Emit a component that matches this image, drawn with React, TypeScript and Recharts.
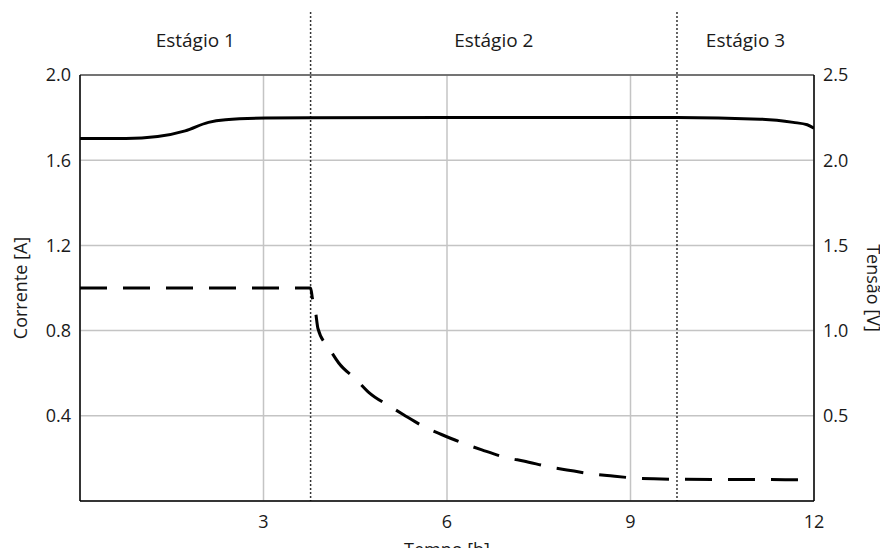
import React from 'react';
import {
  LineChart,
  Line,
  XAxis,
  YAxis,
  CartesianGrid,
  ReferenceLine,
  ReferenceArea,
} from 'recharts';

const FONT = '"Open Sans", "Noto Sans", sans-serif';
const TEXT = '#1a1a1a';

const timeTicks = [3, 6, 9, 12];
const currentTicks = [0.4, 0.8, 1.2, 1.6, 2.0];
const voltageTicks = [0.5, 1.0, 1.5, 2.0, 2.5];

const stageNames = ['Estágio 1', 'Estágio 2', 'Estágio 3'];
const stageBounds = [0, 3.77, 9.76, 12];

const voltageTime = [0, 0.75, 1.27, 1.72, 2.1, 2.38, 3.03, 3.77, 6, 9.76, 11.12, 11.66, 11.89, 12];
const voltageValues = [2.128, 2.128, 2.139, 2.172, 2.222, 2.237, 2.247, 2.249, 2.25, 2.25, 2.241, 2.222, 2.208, 2.188];

const currentTime = [0, 3.77, 3.8, 3.85, 3.89, 4.08, 4.23, 4.52, 4.72, 5.07, 5.29, 5.67, 5.92, 6.33, 6.57, 7.01, 7.25, 7.69, 7.96, 8.4, 8.67, 9.11, 9.38, 9.81, 12];
const currentValues = [1.0, 1.0, 0.95, 0.89, 0.81, 0.714, 0.648, 0.569, 0.51, 0.444, 0.405, 0.342, 0.311, 0.264, 0.24, 0.201, 0.188, 0.159, 0.146, 0.126, 0.118, 0.107, 0.104, 0.102, 0.1];

const voltageData = voltageTime.map((t, i) => ({ t, v: voltageValues[i] }));
const currentData = currentTime.map((t, i) => ({ t, a: currentValues[i] }));

const tickStyle = { fill: TEXT, fontSize: 18, fontFamily: FONT };

const StageLine = (p: any) => {
  const top = Math.min(p.y1, p.y2);
  const bottom = Math.max(p.y1, p.y2);
  return (
    <line
      x1={p.x1}
      x2={p.x2}
      y1={top - 63}
      y2={bottom}
      stroke="#333"
      strokeWidth={1.5}
      strokeDasharray="2 2"
    />
  );
};

export default function App() {
  return (
    <LineChart
      width={880}
      height={540}
      margin={{ top: 67, right: 0, left: 0, bottom: 5 }}
      style={{ fontFamily: FONT }}
    >
      <CartesianGrid yAxisId="left" stroke="#c4c4c4" strokeWidth={1.5} />
      <XAxis
        dataKey="t"
        type="number"
        domain={[0, 12]}
        ticks={timeTicks}
        allowDataOverflow
        height={42}
        tickLine={false}
        tickMargin={8}
        axisLine={{ stroke: '#000', strokeWidth: 1.5 }}
        tick={tickStyle}
        label={{ value: 'Tempo [h]', position: 'bottom', offset: 0, fill: TEXT, fontSize: 18, fontFamily: FONT }}
      />
      <YAxis
        yAxisId="left"
        type="number"
        domain={[0, 2]}
        ticks={currentTicks}
        width={72}
        tickLine={false}
        tickMargin={3}
        axisLine={{ stroke: '#000', strokeWidth: 1.5 }}
        tick={tickStyle}
        tickFormatter={(v: number) => v.toFixed(1)}
        label={{
          content: (props: any) => {
            const vb = props.viewBox || {};
            const cx = vb.x + 11.5;
            const cy = vb.y + vb.height / 2;
            return (
              <text
                x={cx}
                y={cy}
                transform={`rotate(-90 ${cx} ${cy})`}
                textAnchor="middle"
                dominantBaseline="central"
                fill={TEXT}
                fontSize={18}
                fontFamily={FONT}
              >
                Corrente [A]
              </text>
            );
          },
        }}
      />
      <YAxis
        yAxisId="right"
        orientation="right"
        type="number"
        domain={[0, 2.5]}
        ticks={voltageTicks}
        width={74}
        tickLine={false}
        tickMargin={3}
        axisLine={{ stroke: '#000', strokeWidth: 1.5 }}
        tick={tickStyle}
        tickFormatter={(v: number) => v.toFixed(1)}
        label={{
          content: (props: any) => {
            const vb = props.viewBox || {};
            const cx = vb.x + vb.width - 14;
            const cy = vb.y + vb.height / 2;
            return (
              <text
                x={cx}
                y={cy}
                transform={`rotate(90 ${cx} ${cy})`}
                textAnchor="middle"
                dominantBaseline="central"
                fill={TEXT}
                fontSize={18}
                fontFamily={FONT}
              >
                Tensão [V]
              </text>
            );
          },
        }}
      />
      <ReferenceLine yAxisId="left" y={2} stroke="#555" strokeWidth={1.5} />
      {stageNames.map((name, i) => (
        <ReferenceArea
          key={name}
          yAxisId="left"
          x1={stageBounds[i]}
          x2={stageBounds[i + 1]}
          fill="none"
          stroke="none"
          label={{ value: name, position: 'top', offset: 28, fill: TEXT, fontSize: 19, fontFamily: FONT }}
        />
      ))}
      {stageBounds.slice(1, 3).map((b) => (
        <ReferenceLine key={b} yAxisId="left" x={b} shape={StageLine} />
      ))}
      <Line
        data={voltageData}
        dataKey="v"
        yAxisId="right"
        type="monotone"
        stroke="#000"
        strokeWidth={3}
        dot={false}
        activeDot={false}
        isAnimationActive={false}
      />
      <Line
        data={currentData}
        dataKey="a"
        yAxisId="left"
        type="monotone"
        stroke="#000"
        strokeWidth={3}
        strokeDasharray="27 16"
        dot={false}
        activeDot={false}
        isAnimationActive={false}
      />
    </LineChart>
  );
}
